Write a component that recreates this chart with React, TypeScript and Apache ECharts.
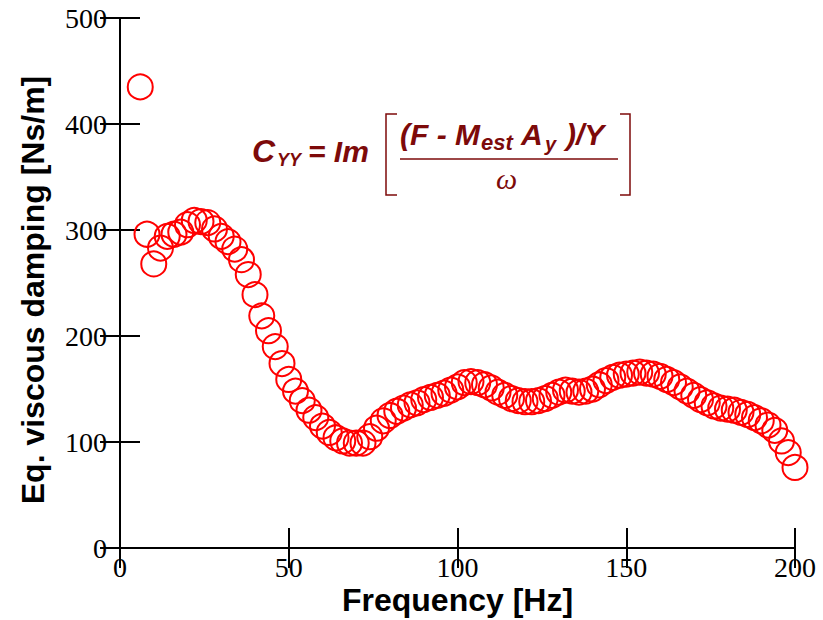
import React, { useEffect, useRef } from "react";
import * as echarts from "echarts";

const frequencies = [
  6, 8, 10, 12, 14, 16, 18, 20, 22, 24, 26, 28, 30, 32, 34, 36, 38, 40, 42, 44,
  46, 48, 50, 52, 54, 56, 58, 60, 62, 64, 66, 68, 70, 72, 74, 76, 78, 80, 82, 84,
  86, 88, 90, 92, 94, 96, 98, 100, 102, 104, 106, 108, 110, 112, 114, 116, 118, 120, 122, 124,
  126, 128, 130, 132, 134, 136, 138, 140, 142, 144, 146, 148, 150, 152, 154, 156, 158, 160, 162, 164,
  166, 168, 170, 172, 174, 176, 178, 180, 182, 184, 186, 188, 190, 192, 194, 196, 198, 200,
];

const damping = [
  435, 296, 268, 283, 294, 296, 298, 305, 309, 308, 307, 301, 294, 289, 282, 272, 258, 239, 219, 205,
  190, 174, 159, 148, 139, 130, 123, 115, 109, 104, 101, 99, 99, 99, 105, 113, 120, 125, 129, 132,
  135, 137, 140, 142, 144, 146, 149, 152, 156, 157, 156, 154, 151, 147, 144, 141, 139, 138, 138, 139,
  141, 144, 147, 149, 148, 147, 148, 150, 154, 158, 161, 163, 164, 165, 166, 165, 164, 162, 159, 156,
  152, 148, 144, 140, 137, 134, 132, 131, 130, 128, 126, 123, 120, 116, 111, 101, 90, 76,
];

const xTicks = { min: 0, max: 200, interval: 50 };
const yTicks = { min: 0, max: 500, interval: 100 };

const formulaColor = "#7d0a0a";
const bi = "bold italic";

export default function App() {
  const ref = useRef<HTMLDivElement>(null);
  useEffect(() => {
    document.body.style.margin = "0";
    const chart = echarts.init(ref.current!, null, { renderer: "svg" });
    const axisLine = { show: true, lineStyle: { color: "#000", width: 2 } };
    const tick = { show: true, inside: true, length: 20, lineStyle: { color: "#000", width: 2 } };
    const labelStyle = { fontFamily: "Liberation Serif", fontSize: 28, color: "#000" };
    const points = frequencies.map((f, i) => [f, damping[i]]);
    chart.setOption({
      animation: false,
      backgroundColor: "#fff",
      grid: { left: 120, right: 28, top: 18, bottom: 72, containLabel: false, outerBoundsMode: "none" },
      xAxis: [
        {
          type: "value",
          ...xTicks,
          name: "Frequency [Hz]",
          nameLocation: "middle",
          nameGap: 36,
          nameMoveOverlap: false,
          nameTextStyle: { fontFamily: "Liberation Sans", fontWeight: "bold", fontSize: 32, color: "#000" },
          axisLine,
          axisTick: tick,
          axisLabel: { ...labelStyle, margin: 5 },
          splitLine: { show: false },
        },
        {
          type: "value",
          position: "top",
          ...xTicks,
          axisLine,
          axisTick: tick,
          axisLabel: { show: false },
          splitLine: { show: false },
        },
      ],
      yAxis: [
        {
          type: "value",
          ...yTicks,
          axisLine,
          axisTick: tick,
          axisLabel: { ...labelStyle, margin: 13 },
          splitLine: { show: false },
        },
        {
          type: "value",
          position: "right",
          ...yTicks,
          axisLine,
          axisTick: tick,
          axisLabel: { show: false },
          splitLine: { show: false },
        },
      ],
      series: [
        {
          type: "scatter",
          data: points,
          symbol: "circle",
          symbolSize: 25,
          itemStyle: { color: "rgba(0,0,0,0)", borderColor: "#ff0000", borderWidth: 2, opacity: 1 },
        },
      ],
      graphic: [
        {
          type: "text",
          x: 33,
          y: 290,
          rotation: Math.PI / 2,
          style: {
            text: "Eq. viscous damping [Ns/m]",
            font: 'bold 32px "Liberation Sans"',
            fill: "#000",
            align: "center",
            verticalAlign: "middle",
          },
        },
        { type: "text", left: 252, top: 135, style: { text: "C", font: `${bi} 32px "Liberation Sans"`, fill: formulaColor } },
        { type: "text", left: 277, top: 151, style: { text: "YY", font: `${bi} 18px "Liberation Sans"`, fill: formulaColor } },
        { type: "text", left: 308, top: 136, style: { text: "= Im", font: `${bi} 30px "Liberation Sans"`, fill: formulaColor } },
        { type: "polyline", shape: { points: [[397, 114], [386, 114], [386, 195], [397, 195]] }, style: { stroke: formulaColor, lineWidth: 1.5, fill: "none" } },
        { type: "polyline", shape: { points: [[620, 114], [630, 114], [630, 195], [620, 195]] }, style: { stroke: formulaColor, lineWidth: 1.5, fill: "none" } },
        { type: "text", left: 400, top: 119, style: { text: "(F - M", font: `${bi} 30px "Liberation Sans"`, fill: formulaColor } },
        { type: "text", left: 481, top: 131, style: { text: "est", font: `${bi} 22px "Liberation Sans"`, fill: formulaColor } },
        { type: "text", left: 521, top: 119, style: { text: "A", font: `${bi} 30px "Liberation Sans"`, fill: formulaColor } },
        { type: "text", left: 545, top: 134, style: { text: "y", font: `${bi} 20px "Liberation Sans"`, fill: formulaColor } },
        { type: "text", left: 566, top: 119, style: { text: ")/Y", font: `${bi} 30px "Liberation Sans"`, fill: formulaColor } },
        { type: "line", shape: { x1: 400, y1: 159, x2: 618, y2: 159 }, style: { stroke: formulaColor, lineWidth: 1.5 } },
        { type: "text", left: 496, top: 163, style: { text: "ω", font: `italic 30px "Liberation Serif"`, fill: formulaColor } },
      ],
    });
    return () => chart.dispose();
  }, []);
  return <div ref={ref} style={{ position: "absolute", left: 0, top: 0, width: 823, height: 620 }} />;
}
